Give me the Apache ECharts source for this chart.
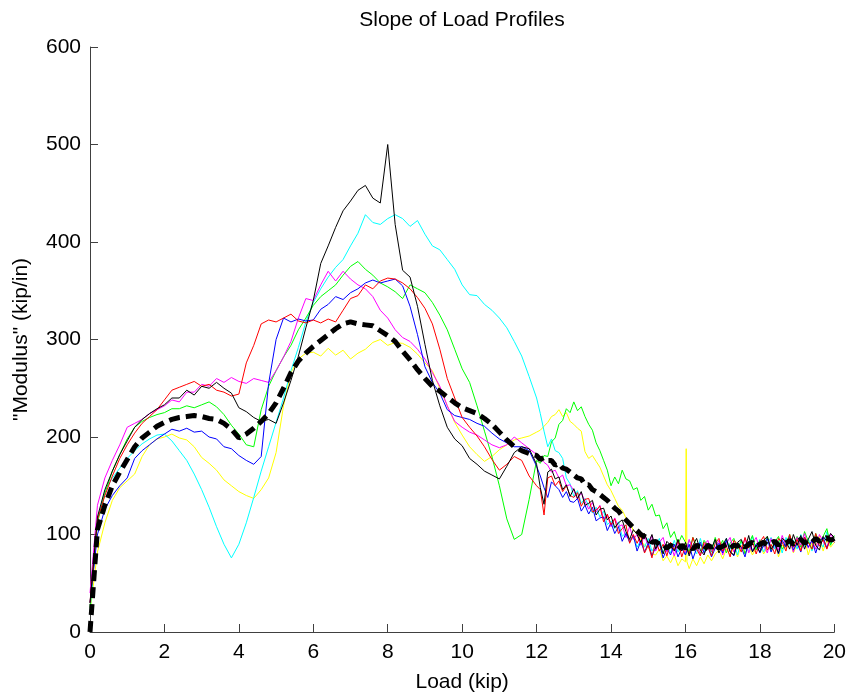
<!DOCTYPE html>
<html>
<head>
<meta charset="utf-8">
<script src="https://cdn.jsdelivr.net/npm/echarts@6/dist/echarts.min.js"></script>
<style>
  html, body { margin: 0; padding: 0; background: #fff; }
  #chart { width: 849px; height: 698px; }
</style>
</head>
<body>
<div id="chart"></div>
<script>
// Load grid shared by all profiles (kip): 0.2 kip steps up to 11.8, 0.1 kip steps after
const loadKip = [
  0, 0.2, 0.4, 0.6, 0.8, 1, 1.2, 1.4, 1.6, 1.8,
  2, 2.2, 2.4, 2.6, 2.8, 3, 3.2, 3.4, 3.6, 3.8,
  4, 4.2, 4.4, 4.6, 4.8, 5, 5.2, 5.4, 5.6, 5.8,
  6, 6.2, 6.4, 6.6, 6.8, 7, 7.2, 7.4, 7.6, 7.8,
  8, 8.2, 8.4, 8.6, 8.8, 9, 9.2, 9.4, 9.6, 9.8,
  10, 10.2, 10.4, 10.6, 10.8, 11, 11.2, 11.4, 11.6, 11.8,
  12, 12.1, 12.2, 12.3, 12.4, 12.5, 12.6, 12.7, 12.8, 12.9,
  13, 13.1, 13.2, 13.3, 13.4, 13.5, 13.6, 13.7, 13.8, 13.9,
  14, 14.1, 14.2, 14.3, 14.4, 14.5, 14.6, 14.7, 14.8, 14.9,
  15, 15.1, 15.2, 15.3, 15.4, 15.5, 15.6, 15.7, 15.8, 15.9,
  16, 16.1, 16.2, 16.3, 16.4, 16.5, 16.6, 16.7, 16.8, 16.9,
  17, 17.1, 17.2, 17.3, 17.4, 17.5, 17.6, 17.7, 17.8, 17.9,
  18, 18.1, 18.2, 18.3, 18.4, 18.5, 18.6, 18.7, 18.8, 18.9,
  19, 19.1, 19.2, 19.3, 19.4, 19.5, 19.6, 19.7, 19.8, 19.9,
  20
];

// Slope (kip/in) of each load profile
const profileBlack = [
  30, 118, 146, 165, 182, 196, 210, 218, 224, 229,
  233, 240, 240, 248, 243, 252, 250, 256, 250, 245,
  230, 226, 220, 216, 218, 214, 235, 258, 283, 312,
  340, 378, 396, 415, 432, 442, 453, 458, 445, 440,
  500, 418, 371, 364, 334, 295, 258, 232, 210, 198,
  191, 178, 172, 165, 161, 157, 170, 184, 190, 188,
  172, 148, 131, 164, 167, 157, 159, 146, 151, 139,
  147, 137, 144, 130, 132, 135, 120, 126, 127, 115,
  119, 107, 112, 115, 103, 95, 105, 100, 92, 101,
  91, 100, 85, 93, 80, 93, 89, 83, 95, 83,
  92, 78, 89, 96, 84, 79, 91, 86, 95, 81,
  89, 96, 82, 79, 92, 95, 85, 99, 82, 89,
  82, 94, 98, 85, 91, 81, 96, 93, 85, 100,
  89, 99, 85, 95, 103, 89, 84, 98, 93, 101,
  97
];
const profileCyan = [
  20, 115, 145, 158, 168, 178, 186, 193, 198, 202,
  203, 196, 186, 176, 162, 146, 128, 108, 90, 76,
  90, 112, 138, 165, 190, 215, 240, 268, 292, 318,
  338, 352, 364, 374, 382, 396, 409, 428, 420, 418,
  424, 428, 424, 416, 422, 408, 396, 392, 382, 372,
  356, 346, 345, 336, 330, 322, 312, 298, 283, 262,
  240, 224, 206, 190, 198, 186, 184, 178, 158, 152,
  139, 145, 132, 137, 130, 122, 128, 118, 124, 110,
  114, 106, 113, 98, 102, 94, 99, 87, 94, 87,
  96, 83, 89, 96, 81, 90, 81, 94, 82, 89,
  79, 94, 87, 80, 96, 83, 90, 79, 93, 88,
  82, 96, 85, 91, 79, 93, 89, 82, 98, 85,
  95, 82, 91, 97, 85, 93, 81, 97, 89, 94,
  85, 100, 88, 96, 83, 98, 93, 87, 103, 90,
  95
];
const profileRed = [
  30, 115, 140, 160, 178, 192, 204, 214, 221, 228,
  238, 248, 251, 254, 257, 252, 254, 248, 246, 242,
  244, 276, 294, 316, 320, 318, 322, 326, 319, 317,
  320, 317, 321, 318, 330, 342, 345, 356, 352, 360,
  363, 362, 358, 352, 343, 332, 316, 290, 260, 240,
  220, 210, 201, 190, 177, 166, 172, 180, 176, 160,
  150, 146, 120, 158, 160, 150, 155, 144, 150, 140,
  138, 143, 129, 136, 137, 123, 125, 129, 113, 121,
  110, 116, 101, 106, 110, 91, 100, 91, 99, 81,
  89, 76, 94, 83, 90, 78, 92, 84, 94, 77,
  88, 80, 97, 85, 78, 92, 88, 78, 91, 96,
  83, 88, 77, 94, 90, 82, 97, 86, 93, 80,
  92, 98, 84, 90, 80, 96, 92, 83, 100, 87,
  95, 83, 97, 92, 85, 101, 88, 95, 85, 97,
  92
];
const profileGreen = [
  25, 112, 142, 165, 182, 198, 210, 216, 220, 223,
  225, 229, 229, 232, 230, 233, 236, 231, 223, 212,
  203, 192, 190, 228, 252, 268, 282, 294, 310, 322,
  335, 344, 350, 356, 366, 375, 380, 372, 366, 358,
  354, 349, 342, 356, 352, 348, 338, 325, 310, 290,
  270, 256, 232, 206, 180, 150, 116, 95, 100, 136,
  176, 173, 181, 180, 195, 199, 213, 217, 229, 225,
  236, 227, 231, 221, 213, 207, 194, 186, 176, 166,
  150, 159, 152, 166, 157, 155, 146, 148, 135, 139,
  125, 131, 119, 120, 106, 112, 97, 103, 90, 99,
  92, 82, 97, 88, 80, 94, 89, 82, 97, 86,
  94, 81, 91, 96, 85, 94, 80, 90, 99, 84,
  94, 87, 98, 83, 92, 98, 85, 91, 100, 87,
  98, 87, 103, 93, 85, 101, 91, 98, 106, 89,
  99
];
const profileYellow = [
  20, 82, 112, 135, 148, 155, 162, 180, 192, 198,
  200, 203, 199, 197, 190, 179, 173, 166, 156, 150,
  144, 140, 137, 146, 158, 184, 232, 266, 280, 286,
  287, 283, 291, 284, 289, 280, 286, 290, 297, 300,
  294, 297, 296, 292, 285, 276, 268, 250, 232, 215,
  202, 190, 182, 175, 180, 187, 192, 197, 199, 201,
  205, 207, 211, 215, 221, 223, 228, 221, 225, 216,
  213, 209, 206, 185, 178, 181, 175, 169, 160, 151,
  145, 137, 129, 125, 117, 113, 104, 101, 94, 89,
  87, 80, 79, 85, 73, 78, 71, 79, 68, 75,
  72, 65, 75, 68, 77, 70, 79, 73, 80, 84,
  75, 85, 79, 87, 77, 89, 81, 88, 79, 86,
  91, 80, 87, 84, 93, 77, 89, 86, 94, 81,
  90, 85, 96, 79, 92, 88, 98, 83, 94, 87,
  92
];
// Single-sample jump in the yellow profile just past 16 kip
const yellowSpikeLoad = [16.02, 16.04];
const yellowSpikeSlope = [188, 72];

const profileMagenta = [
  40, 130, 158, 176, 192, 210, 214, 218, 224, 228,
  232, 238, 236, 246, 246, 254, 252, 260, 256, 261,
  257, 255, 260, 258, 256, 268, 282, 298, 322, 342,
  340, 356, 370, 360, 370, 362, 356, 352, 344, 330,
  322, 310, 302, 298, 290, 280, 266, 252, 232, 216,
  210, 205, 202, 197, 192, 189, 192, 200, 194, 188,
  182, 178, 174, 171, 164, 166, 158, 161, 150, 151,
  145, 136, 143, 134, 126, 133, 123, 130, 116, 120,
  108, 117, 108, 110, 97, 108, 95, 100, 89, 99,
  88, 99, 83, 92, 97, 82, 90, 78, 92, 87,
  81, 95, 84, 91, 79, 89, 94, 83, 86, 94,
  79, 91, 97, 82, 90, 85, 96, 81, 91, 97,
  85, 90, 81, 96, 92, 84, 99, 88, 95, 82,
  97, 89, 101, 86, 94, 85, 100, 93, 86, 101,
  94
];
const profileBlue = [
  30, 100, 126, 140, 150, 158, 178, 186, 192, 198,
  203, 208, 206, 209, 205, 206, 200, 198, 190, 188,
  181, 176, 172, 180, 255, 300, 322, 318, 321, 319,
  320, 331, 336, 344, 341, 348, 352, 358, 361, 358,
  360, 362, 355, 334, 305, 272, 256, 245, 228, 222,
  220, 218, 214, 211, 204, 198, 194, 190, 190, 186,
  170, 160, 148, 138, 154, 150, 146, 138, 144, 134,
  133, 137, 124, 130, 121, 128, 114, 117, 118, 104,
  112, 101, 108, 93, 101, 92, 99, 83, 93, 82,
  91, 78, 87, 91, 76, 86, 79, 90, 77, 86,
  79, 90, 75, 86, 92, 81, 88, 77, 86, 91,
  81, 94, 83, 78, 91, 87, 77, 93, 83, 90,
  81, 89, 96, 82, 90, 80, 94, 87, 98, 84,
  91, 82, 97, 87, 94, 81, 93, 97, 86, 96,
  92
];
// Average of the profiles
const meanSlope = [
  0, 105, 130, 150, 164, 177, 190, 199, 205, 211,
  215, 218, 220, 221, 222, 221, 219, 218, 214, 208,
  199, 203, 209, 216, 224, 235, 250, 266, 278, 286,
  293, 299, 305, 311, 316, 318, 316, 315, 314, 309,
  304, 298, 288, 279, 269, 260, 252, 247, 241, 235,
  230, 227, 224, 219, 213, 205, 197, 190, 186, 183,
  181, 177, 179, 176, 176, 171, 173, 168, 167, 164,
  161, 158, 157, 151, 151, 146, 144, 141, 138, 135,
  131, 127, 124, 119, 115, 111, 107, 104, 100, 98,
  96, 92, 93, 89, 90, 86, 89, 87, 85, 89,
  86, 88, 85, 89, 87, 84, 89, 87, 90, 86,
  88, 90, 86, 89, 88, 91, 87, 90, 92, 88,
  90, 92, 89, 91, 93, 89, 92, 91, 94, 90,
  93, 95, 91, 94, 92, 96, 93, 95, 97, 94,
  96
];

const xTicks = [0, 2, 4, 6, 8, 10, 12, 14, 16, 18, 20];
const yTicks = [0, 100, 200, 300, 400, 500, 600];

function pairs(values) {
  return loadKip.map((x, i) => [x, values[i]]);
}

const yellowData = pairs(profileYellow)
  .concat(yellowSpikeLoad.map((x, i) => [x, yellowSpikeSlope[i]]))
  .sort((a, b) => a[0] - b[0]);

const FONT = "'Liberation Sans', Arial, Helvetica, sans-serif";
const AXIS_COLOR = '#404040';

function profileSeries(name, color, data) {
  return {
    name: name,
    type: 'line',
    data: data,
    showSymbol: false,
    symbol: 'none',
    smooth: false,
    lineStyle: { color: color, width: 1 },
    emphasis: { disabled: true }
  };
}

const chart = echarts.init(document.getElementById('chart'), null, { renderer: 'canvas' });

chart.setOption({
  animation: false,
  backgroundColor: '#ffffff',
  title: {
    text: 'Slope of Load Profiles',
    left: 462,
    top: 10,
    textAlign: 'center',
    padding: 0,
    textStyle: { fontFamily: FONT, fontSize: 21, fontWeight: 'normal', color: '#000' }
  },
  grid: { left: 90, right: 14, top: 47, bottom: 65, containLabel: false },
  xAxis: {
    type: 'value',
    min: xTicks[0],
    max: xTicks[xTicks.length - 1],
    interval: xTicks[1] - xTicks[0],
    name: 'Load (kip)',
    nameLocation: 'middle',
    nameGap: 40,
    nameTextStyle: { fontFamily: FONT, fontSize: 21, color: '#000' },
    axisLine: { show: true, onZero: false, lineStyle: { color: AXIS_COLOR, width: 1 } },
    axisTick: { show: true, inside: true, length: 8, lineStyle: { color: AXIS_COLOR, width: 1 } },
    axisLabel: { fontFamily: FONT, fontSize: 21, color: '#000', margin: 10 },
    splitLine: { show: false }
  },
  yAxis: {
    type: 'value',
    min: yTicks[0],
    max: yTicks[yTicks.length - 1],
    interval: yTicks[1] - yTicks[0],
    name: '"Modulus" (kip/in)',
    nameLocation: 'middle',
    nameGap: 58,
    nameRotate: 90,
    nameTextStyle: { fontFamily: FONT, fontSize: 21, color: '#000' },
    axisLine: { show: true, onZero: false, lineStyle: { color: AXIS_COLOR, width: 1 } },
    axisTick: { show: true, inside: true, length: 8, lineStyle: { color: AXIS_COLOR, width: 1 } },
    axisLabel: { fontFamily: FONT, fontSize: 21, color: '#000', margin: 9 },
    splitLine: { show: false }
  },
  series: [
    profileSeries('yellow', '#ffff00', yellowData),
    profileSeries('cyan', '#00ffff', pairs(profileCyan)),
    profileSeries('green', '#00ff00', pairs(profileGreen)),
    profileSeries('magenta', '#ff00ff', pairs(profileMagenta)),
    profileSeries('blue', '#0000ff', pairs(profileBlue)),
    profileSeries('red', '#ff0000', pairs(profileRed)),
    profileSeries('black', '#000000', pairs(profileBlack)),
    {
      name: 'mean',
      type: 'line',
      data: pairs(meanSlope),
      showSymbol: false,
      symbol: 'none',
      z: 10,
      lineStyle: { color: '#000000', width: 5, type: [11, 6], cap: 'butt' },
      emphasis: { disabled: true }
    }
  ]
});
</script>
</body>
</html>
